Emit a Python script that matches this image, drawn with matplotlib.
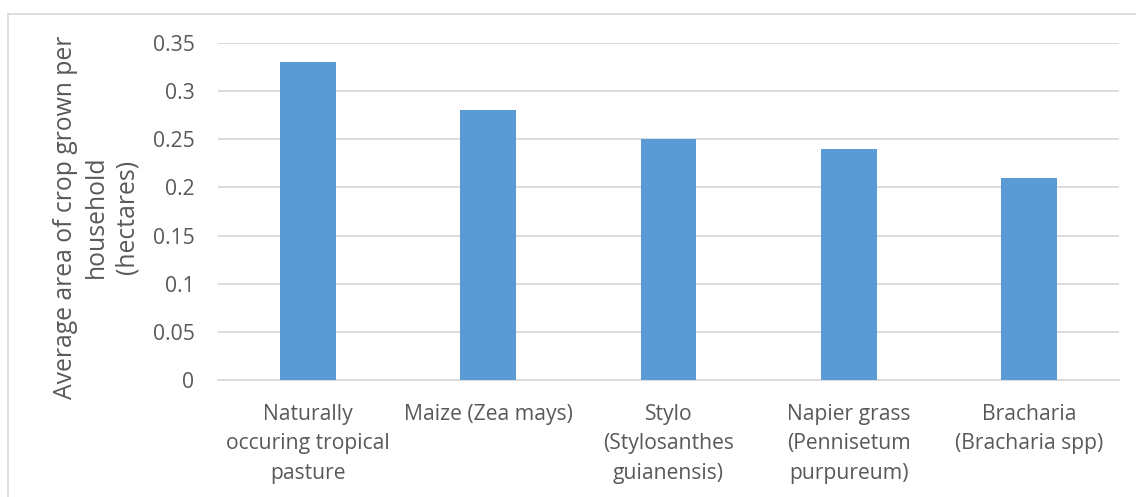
import matplotlib.pyplot as plt
from matplotlib.patches import Rectangle

crops = ["Naturally\noccuring tropical\npasture", "Maize (Zea mays)",
         "Stylo\n(Stylosanthes\nguianensis)", "Napier grass\n(Pennisetum\npurpureum)",
         "Bracharia\n(Bracharia spp)"]
area = [0.33, 0.28, 0.25, 0.24, 0.21]
yticks = [0, 0.05, 0.1, 0.15, 0.2, 0.25, 0.3, 0.35]
ytick_labels = ["0", "0.05", "0.1", "0.15", "0.2", "0.25", "0.3", "0.35"]

plt.rcParams['font.family'] = ['Open Sans', 'DejaVu Sans']
text_col = "#595959"

W, H = 1136, 497
fig = plt.figure(figsize=(W / 100, H / 100), dpi=100)
# plot area in pixel terms
left, right, top, bottom = 218, 1119, 43, 380
ax = fig.add_axes([left / W, 1 - bottom / H, (right - left) / W, (bottom - top) / H])

x = range(len(crops))
ax.bar(x, area, width=0.31, color="#5B9BD5", zorder=3)

ax.set_xlim(-0.5, len(crops) - 0.5)
ax.set_ylim(0, 0.35)
ax.set_yticks(yticks)
ax.set_yticklabels(ytick_labels)
ax.set_xticks(list(x))
ax.set_xticklabels(crops, linespacing=1.55, va="top")
ax.tick_params(axis="y", length=0, pad=17, labelsize=15.2, colors=text_col)
ax.tick_params(axis="x", length=0, pad=17, labelsize=15.2, colors=text_col)
ax.grid(axis="y", color="#D9D9D9", linewidth=1.3, zorder=0)
for s in ["top", "right", "left"]:
    ax.spines[s].set_visible(False)
ax.spines["bottom"].set_color("#D9D9D9")
ax.spines["bottom"].set_linewidth(1.3)

fig.text(96 / W, 1 - 217 / H, "Average area of crop grown per\nhousehold\n(hectares)",
         rotation=90, ha="center", va="center", fontsize=17.8, color=text_col,
         linespacing=1.31)

# outer chart frame
fig.patches.append(Rectangle((8 / W, -0.1), 1.2, 1 - 14 / H + 0.1,
                             transform=fig.transFigure, fill=False,
                             edgecolor="#D9D9D9", linewidth=1.2))

fig.savefig("out.png", dpi=100)
